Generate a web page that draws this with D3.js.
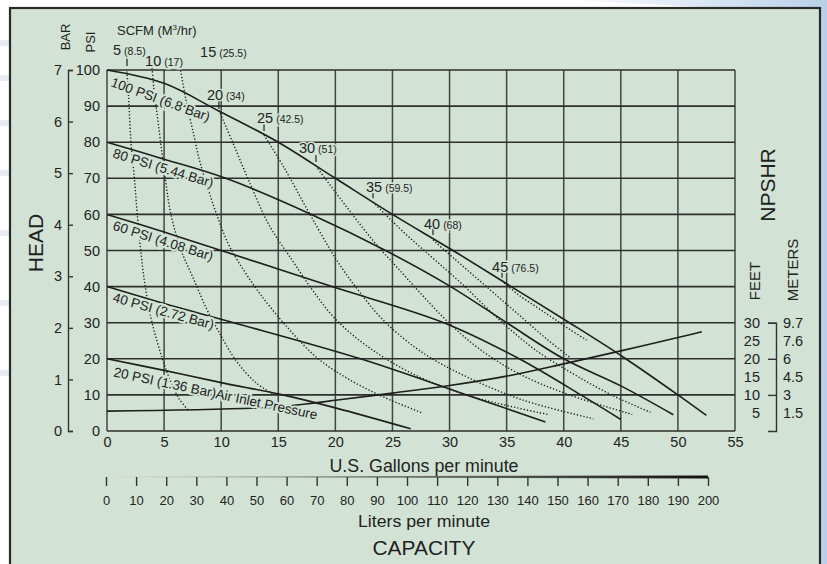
<!DOCTYPE html>
<html>
<head>
<meta charset="utf-8">
<script src="https://cdn.jsdelivr.net/npm/d3@7"></script>
<style>
    body { margin: 0; background: #fff; }
    svg { display: block; font-family: "Liberation Sans", Arial, Helvetica, sans-serif; }
</style>
</head>
<body>
<div id="chart"></div>
<script>
// ---- data ----
var gpmTicks = d3.range(0, 56, 5);
var psiTicks = d3.range(0, 101, 10);
var barTicks = d3.range(0, 8);
var literTicks = d3.range(0, 201, 10);
var feetTicks = [30, 25, 20, 15, 10, 5];
var meterLabels = ['9.7', '7.6', '6', '4.5', '3', '1.5'];

// air inlet pressure curves, [gpm, psi head]
var psi100 = [[0, 100], [5, 96.3], [9.7, 88.8], [15, 80], [20, 70], [25, 60], [30.3, 50], [35.4, 40], [40.5, 30], [45.2, 20.5], [50, 10], [52.5, 4.3]];
var psi80 = [[0, 80], [5, 75.3], [10.4, 70], [17.9, 60], [24.4, 50], [30.1, 40], [35, 30], [40, 20], [45, 12.5], [49.6, 4.5]];
var psi60 = [[0, 60], [5, 55.1], [10, 50], [19.7, 40], [29.5, 30], [36.1, 20], [41.5, 10], [45, 3.2]];
var psi40 = [[0, 40], [5, 35.3], [11.1, 30], [22.2, 20], [31.5, 10], [38.4, 2.5]];
var psi20 = [[0, 20], [5, 16.8], [10, 13.4], [15.4, 10], [20, 6.4], [26.6, 0.6]];
var pressureNames = ['100 PSI (6.8 Bar)', '80 PSI (5.44 Bar)', '60 PSI (4.08 Bar)', '40 PSI (2.72 Bar)', '20 PSI (1.36 Bar)Air Inlet Pressure'];

// NPSHR line (feet, same scale as head)
var npshr = [[0, 5.5], [14.6, 6.6], [18.2, 7.8], [20, 8.5], [25, 10.5], [30, 12.6], [35, 15.2], [40, 18.6], [45, 22.2], [50, 25.9], [52.1, 27.5]];

// air consumption curves, [gpm, psi]
var scfmValues = [5, 10, 15, 20, 25, 30, 35, 40, 45];
var scfmMetric = ['8.5', '17', '25.5', '34', '42.5', '51', '59.5', '68', '76.5'];
var scfm5 = [[1.75, 99.6], [1.9, 92], [2.1, 80], [2.4, 70], [2.65, 60], [2.95, 50], [3.35, 40], [3.95, 30], [4.85, 20], [5.6, 13.5], [6.3, 9], [7.1, 5.8]];
var scfm10 = [[3.95, 100.5], [4.1, 95], [4.5, 85], [5.1, 70], [5.6, 60], [6.5, 50], [7.6, 42], [8.7, 34], [9.7, 28], [11.3, 19.5], [13, 13.5], [14.5, 10.3]];
var scfm15 = [[6.4, 100.8], [6.9, 92], [7.6, 82], [8.1, 75], [8.8, 67.6], [9.6, 60], [10.6, 52], [11.4, 47.4], [13.4, 38], [16, 28], [18.5, 20], [21.3, 14.1], [24.3, 9.3], [27.6, 5]];
var scfm20 = [[9.8, 88.8], [11, 80], [12.4, 69.5], [14.2, 57], [16.2, 47.4], [18, 39], [20.1, 30.7], [23, 23], [27, 15.5], [32, 9.5], [38.6, 4.6]];
var scfm25 = [[13.75, 82], [15.5, 73], [17.6, 61], [20.1, 47.4], [22, 39], [24.2, 30.7], [27.5, 22], [31.5, 15], [36.5, 8.5], [42.6, 3.4]];
var scfm30 = [[18.3, 73.4], [21, 62], [23.5, 52], [25.5, 45], [27.5, 38], [29.7, 30.7], [32.5, 23], [36, 16], [40.5, 10], [46, 4.6]];
var scfm35 = [[23.3, 63.4], [26, 55], [28.5, 48], [31, 41], [34.4, 30.7], [37.5, 22.5], [41, 15.5], [44.5, 9.5], [47.6, 5.2]];
var scfm40 = [[28.55, 52.9], [30.5, 47.5], [32.5, 42], [34.5, 36.5], [36.5, 31], [38.5, 25.5], [40.5, 20.5]];
var scfm45 = [[34.6, 41.6], [36, 37.8], [37.5, 34.6], [39, 31.4], [40.5, 28.2], [42, 25.2]];

window.onload = start;

function start() {
    var width = 827;
    var height = 564;
    var bg = '#d2e3d5';
    var ink = '#1e1e1e';

    var svg = d3.select('#chart').append('svg')
        .attr('width', width)
        .attr('height', height);

    // page background with the light blue swoosh
    var defs = svg.append('defs');
    var grad = defs.append('linearGradient').attr('id', 'swoosh').attr('x1', 0).attr('x2', 1);
    grad.append('stop').attr('offset', 0).attr('stop-color', '#ffffff');
    grad.append('stop').attr('offset', 1).attr('stop-color', '#b9d0ea');
    var wedge = defs.append('linearGradient').attr('id', 'wedge').attr('x1', 0).attr('x2', 1);
    wedge.append('stop').attr('offset', 0).attr('stop-color', '#d8d8d8');
    wedge.append('stop').attr('offset', 1).attr('stop-color', '#111');

    svg.append('rect').attr('width', width).attr('height', height).attr('fill', '#fff');
    svg.append('path')
        .attr('d', 'M560,0 L827,0 L827,564 L806,564 L806,14 Q700,6 560,0 Z')
        .attr('fill', 'url(#swoosh)');
    [40, 75, 120, 170, 230, 300, 370].forEach(function(yy) {
        svg.append('rect').attr('x', 0).attr('y', yy).attr('width', 10).attr('height', 6)
            .attr('fill', '#e6edf5');
    });

    // panel
    svg.append('rect')
        .attr('x', 10).attr('y', 8)
        .attr('width', 810).attr('height', 580)
        .attr('fill', bg)
        .attr('stroke', '#2a2a2a')
        .attr('stroke-width', 2.2);

    var xScale = d3.scaleLinear().domain([0, 55]).range([107, 735]);
    var yScale = d3.scaleLinear().domain([0, 100]).range([431, 70]);
    var barScale = d3.scaleLinear().domain([0, 7]).range([431, 70]);
    var literScale = d3.scaleLinear().domain([0, 200]).range([106, 708]);
    var feetScale = d3.scaleLinear().domain([0, 30]).range([yScale(0), yScale(30)]);

    // grid
    var grid = svg.append('g');
    grid.selectAll('.vgrid').data(gpmTicks).enter().append('line')
        .attr('class', 'vgrid')
        .attr('x1', function(d) { return xScale(d); })
        .attr('x2', function(d) { return xScale(d); })
        .attr('y1', yScale(100)).attr('y2', yScale(0))
        .attr('stroke', '#444').attr('stroke-width', 1.5);
    grid.selectAll('.hgrid').data(psiTicks).enter().append('line')
        .attr('class', 'hgrid')
        .attr('x1', xScale(0)).attr('x2', xScale(55))
        .attr('y1', function(d) { return yScale(d); })
        .attr('y2', function(d) { return yScale(d); })
        .attr('stroke', '#2e2e2e').attr('stroke-width', 1.6);

    var line = d3.line()
        .x(function(d) { return xScale(d[0]); })
        .y(function(d) { return yScale(d[1]); })
        .curve(d3.curveCatmullRom.alpha(0.5));

    // air consumption curves (dotted)
    var scfmCurves = [scfm5, scfm10, scfm15, scfm20, scfm25, scfm30, scfm35, scfm40, scfm45];
    svg.append('g').selectAll('path').data(scfmCurves).enter().append('path')
        .attr('d', line)
        .attr('fill', 'none')
        .attr('stroke', ink)
        .attr('stroke-width', 1.4)
        .attr('stroke-dasharray', '1.3,2');

    // pressure curves and NPSHR
    var pressureCurves = [psi100, psi80, psi60, psi40, psi20];
    svg.append('g').selectAll('path').data(pressureCurves.concat([npshr])).enter().append('path')
        .attr('d', line)
        .attr('fill', 'none')
        .attr('stroke', ink)
        .attr('stroke-width', 1.6);

    // pressure curve labels (halo masks the lines behind)
    var labelAngle = [20, 17, 17.5, 15.5, 12];
    var labelOff = [[3, 16], [5, 15], [5, 15.2], [5, 15], [6, 17.5]];
    svg.append('g').selectAll('text').data(pressureCurves).enter().append('text')
        .attr('transform', function(d, i) {
            var px = xScale(d[0][0]) + labelOff[i][0];
            var py = yScale(d[0][1]) + labelOff[i][1];
            return 'translate(' + px + ',' + py + ') rotate(' + labelAngle[i] + ')';
        })
        .attr('font-size', 13.5)
        .attr('fill', '#222')
        .attr('stroke', bg).attr('stroke-width', 4).attr('paint-order', 'stroke')
        .text(function(d, i) { return pressureNames[i]; });

    // SCFM labels and their little ticks
    var scfmLabelOff = [[-14, -16.5], [-7, -2], [20, -10], [-12, -10.5], [-7, -12], [-17, -13], [-7, -10], [-9, -11], [-10, -9]];
    var scfmTick = [[-13.5, -5.5], null, null, [-9.5, -1.5], [-11, -4], [-11, -4], [-9, -4], [-12, -5], [-9, -3]];
    var scfmG = svg.append('g');
    scfmCurves.forEach(function(c, i) {
        var sx = xScale(c[0][0]);
        var sy = yScale(c[0][1]);
        if (scfmTick[i]) {
            scfmG.append('line')
                .attr('x1', sx).attr('x2', sx)
                .attr('y1', sy + scfmTick[i][0]).attr('y2', sy + scfmTick[i][1])
                .attr('stroke', ink).attr('stroke-width', 1.2);
        }
        var t = scfmG.append('text')
            .attr('x', sx + scfmLabelOff[i][0])
            .attr('y', sy + scfmLabelOff[i][1])
            .attr('font-size', 14.5)
            .attr('fill', '#222')
            .attr('stroke', bg).attr('stroke-width', 3).attr('paint-order', 'stroke');
        t.append('tspan').text(scfmValues[i]);
        t.append('tspan').attr('font-size', 10.5).attr('dx', 3).text('(' + scfmMetric[i] + ')');
    });

    // axes
    var xAxis = svg.append('g')
        .attr('transform', 'translate(0,' + yScale(0) + ')')
        .call(d3.axisBottom(xScale).tickValues(gpmTicks).tickSize(0).tickPadding(6));
    var psiAxis = svg.append('g')
        .attr('transform', 'translate(' + xScale(0) + ',0)')
        .call(d3.axisLeft(yScale).tickValues(psiTicks).tickSize(0).tickPadding(7));
    var barAxis = svg.append('g')
        .attr('transform', 'translate(68,0)')
        .call(d3.axisLeft(barScale).tickValues(barTicks).tickFormat(d3.format('d')).tickSize(-5).tickPadding(6));
    var feetAxis = svg.append('g')
        .attr('transform', 'translate(776,0)')
        .call(d3.axisLeft(feetScale).tickValues([10, 20, 30]).tickSize(8).tickFormat(''));
    var literAxis = svg.append('g')
        .attr('transform', 'translate(0,477)')
        .call(d3.axisBottom(literScale).tickValues(literTicks).tickSize(9).tickPadding(10));

    xAxis.select('.domain').remove();
    psiAxis.select('.domain').remove();
    literAxis.select('.domain').remove();
    [xAxis, psiAxis, barAxis].forEach(function(a) {
        a.selectAll('text').attr('font-size', 14.5).attr('fill', '#222')
            .attr('font-family', '"Liberation Sans", Arial, sans-serif');
    });
    literAxis.selectAll('text').attr('font-size', 13).attr('fill', '#222')
        .attr('font-family', '"Liberation Sans", Arial, sans-serif');
    [barAxis, feetAxis, literAxis].forEach(function(a) {
        a.selectAll('line, path').attr('stroke', '#333').attr('stroke-width', 1.4);
    });

    // tapered liters axis line
    svg.insert('path', 'g')
        .attr('d', 'M' + literScale(0) + ',476.5 L' + literScale(200) + ',475.5 L' + literScale(200) + ',478.5 L' + literScale(0) + ',477.3 Z')
        .attr('fill', 'url(#wedge)');

    // NPSHR feet / meter labels
    var npshG = svg.append('g').attr('font-size', 14.5).attr('fill', '#222');
    npshG.selectAll('.ft').data(feetTicks).enter().append('text')
        .attr('x', 760).attr('y', function(d) { return feetScale(d); })
        .attr('dy', '0.35em').attr('text-anchor', 'end')
        .text(function(d) { return d; });
    npshG.selectAll('.mt').data(meterLabels).enter().append('text')
        .attr('x', 783).attr('y', function(d, i) { return feetScale(feetTicks[i]); })
        .attr('dy', '0.35em')
        .text(function(d) { return d; });

    // titles
    function rotLabel(x, y, size, txt) {
        svg.append('text')
            .attr('transform', 'translate(' + x + ',' + y + ') rotate(-90)')
            .attr('text-anchor', 'middle')
            .attr('font-size', size)
            .attr('fill', '#222')
            .text(txt);
    }
    rotLabel(70, 37, 13, 'BAR');
    rotLabel(95, 42, 13, 'PSI');
    rotLabel(43, 243, 21, 'HEAD');
    rotLabel(775, 185, 21, 'NPSHR');
    rotLabel(760, 281, 15, 'FEET');
    rotLabel(798, 270, 15, 'METERS');

    var scfmTitle = svg.append('text').attr('x', 117).attr('y', 35)
        .attr('font-size', 13).attr('fill', '#222');
    scfmTitle.append('tspan').text('SCFM (M');
    scfmTitle.append('tspan').attr('font-size', 8).attr('dy', -5).text('3');
    scfmTitle.append('tspan').attr('dy', 5).text('/hr)');

    svg.append('text').attr('x', 424).attr('y', 472)
        .attr('text-anchor', 'middle').attr('font-size', 17.5).attr('fill', '#222')
        .attr('textLength', 189).attr('lengthAdjust', 'spacingAndGlyphs')
        .text('U.S. Gallons per minute');
    svg.append('text').attr('x', 424).attr('y', 527)
        .attr('text-anchor', 'middle').attr('font-size', 17).attr('fill', '#222')
        .attr('textLength', 132).attr('lengthAdjust', 'spacingAndGlyphs')
        .text('Liters per minute');
    svg.append('text').attr('x', 424).attr('y', 555)
        .attr('text-anchor', 'middle').attr('font-size', 21).attr('fill', '#222')
        .attr('textLength', 103).attr('lengthAdjust', 'spacingAndGlyphs')
        .text('CAPACITY');
}
</script>
</body>
</html>
